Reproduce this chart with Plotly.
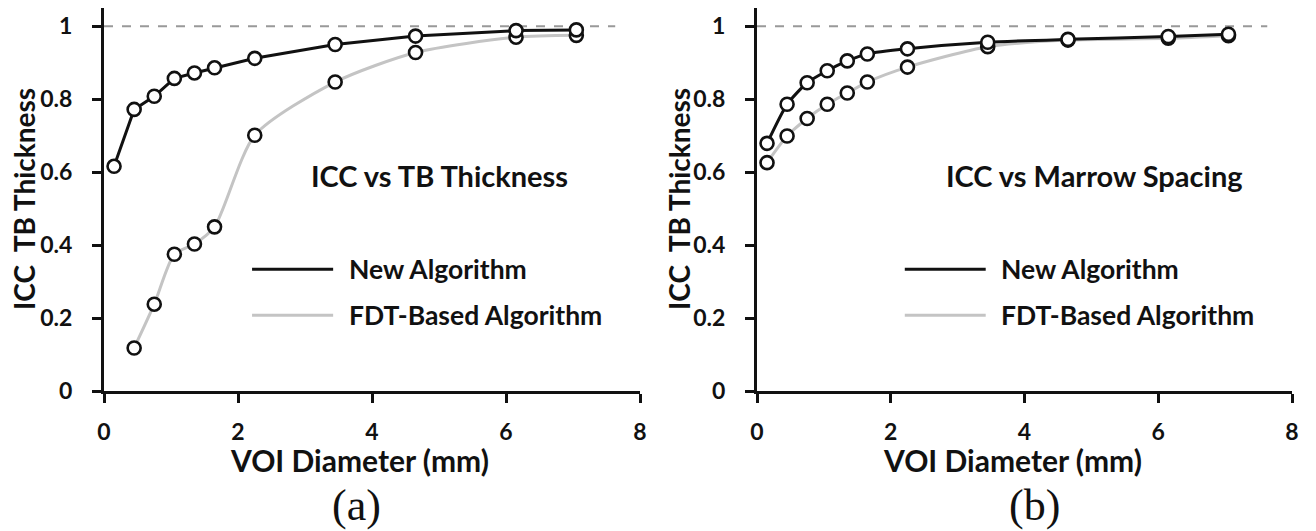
import plotly.graph_objects as go

voi_diameter = [0.15, 0.45, 0.75, 1.05, 1.35, 1.65, 2.25, 3.45, 4.65, 6.15, 7.05]

# Panel (a): ICC vs TB Thickness
a_new = [0.616, 0.772, 0.808, 0.857, 0.872, 0.886, 0.912, 0.950, 0.973, 0.988, 0.990]
a_fdt_x = [0.45, 0.75, 1.05, 1.35, 1.65, 2.25, 3.45, 4.65, 6.15, 7.05]
a_fdt = [0.118, 0.238, 0.375, 0.403, 0.450, 0.701, 0.847, 0.928, 0.970, 0.975]

# Panel (b): ICC vs Marrow Spacing
b_new = [0.679, 0.786, 0.845, 0.878, 0.905, 0.924, 0.938, 0.956, 0.964, 0.972, 0.978]
b_fdt = [0.626, 0.699, 0.747, 0.786, 0.817, 0.847, 0.888, 0.944, 0.962, 0.967, 0.974]

x_ticks = [0, 2, 4, 6, 8]
y_ticks = [0, 0.2, 0.4, 0.6, 0.8, 1]
y_tick_text = ["0", "0.2", "0.4", "0.6", "0.8", "1"]
ref_line_x = [0, 7.63]
ref_line_y = [1, 1]

legend_names = ["New Algorithm", "FDT-Based Algorithm"]
panel_titles = ["ICC vs TB Thickness", "ICC vs Marrow Spacing"]
panel_labels = ["(a)", "(b)"]
x_title = "VOI Diameter (mm)"
y_title = "ICC\u00a0 TB Thickness"

FONT = "Lato"
BLACK = "#111111"
GRAY = "#c4c4c4"
W, H, OFF = 1316, 531, 8  # page body margin offset


def fx(px):
    return (px - OFF) / W


def fy(py):
    return 1 - (py - OFF) / H


fig = go.Figure()

marker = dict(symbol="circle", size=13, color="white", line=dict(color=BLACK, width=2.6))

panels = [
    ("x", "y", voi_diameter, a_new, "linear", a_fdt_x, a_fdt),
    ("x2", "y2", voi_diameter, b_new, "spline", voi_diameter, b_fdt),
]
for xa, ya, xn, yn, shape_new, xf, yf in panels:
    fig.add_trace(go.Scatter(x=ref_line_x, y=ref_line_y, xaxis=xa, yaxis=ya, mode="lines",
                             line=dict(color="#999999", width=2, dash="dash"),
                             showlegend=False, hoverinfo="skip"))
    fig.add_trace(go.Scatter(x=xf, y=yf, xaxis=xa, yaxis=ya, mode="lines+markers",
                             line=dict(color=GRAY, width=3, shape="spline", smoothing=0.7),
                             marker=marker, showlegend=False))
    fig.add_trace(go.Scatter(x=xn, y=yn, xaxis=xa, yaxis=ya, mode="lines+markers",
                             line=dict(color=BLACK, width=3, shape=shape_new, smoothing=0.6),
                             marker=marker, showlegend=False))
    # legend sample lines
    fig.add_trace(go.Scatter(x=[2.21, 3.42], y=[0.334, 0.334], xaxis=xa, yaxis=ya, mode="lines",
                             line=dict(color=BLACK, width=3), showlegend=False, hoverinfo="skip"))
    fig.add_trace(go.Scatter(x=[2.21, 3.42], y=[0.208, 0.208], xaxis=xa, yaxis=ya, mode="lines",
                             line=dict(color=GRAY, width=3), showlegend=False, hoverinfo="skip"))

axis_common = dict(showline=True, linecolor=BLACK, linewidth=3, ticks="outside", ticklen=9,
                   tickwidth=3, tickcolor=BLACK, showgrid=False, zeroline=False, automargin=False,
                   tickfont=dict(family=FONT, size=23, color=BLACK, weight="bold"))

ydom = [fy(391), fy(8)]
fig.update_layout(
    width=W, height=H, margin=dict(l=0, r=0, t=0, b=0, autoexpand=False),
    paper_bgcolor="white", plot_bgcolor="white",
    xaxis=dict(domain=[fx(104), fx(640)], range=[0, 8], tickvals=x_ticks, anchor="y",
               ticklabelstandoff=9, **axis_common),
    yaxis=dict(domain=ydom, range=[0, 1.05], tickvals=y_ticks, ticktext=y_tick_text,
               anchor="x", ticklabelstandoff=15, **axis_common),
    xaxis2=dict(domain=[fx(757), fx(1292)], range=[0, 8], tickvals=x_ticks, anchor="y2",
                ticklabelstandoff=9, **axis_common),
    yaxis2=dict(domain=ydom, range=[0, 1.05], tickvals=y_ticks, ticktext=y_tick_text,
                anchor="x2", ticklabelstandoff=15, **axis_common),
)

ann = []
for i, (xa, ya) in enumerate([("x", "y"), ("x2", "y2")]):
    ann.append(dict(xref=xa, yref=ya, x=[5.0, 5.05][i], y=0.592, text=panel_titles[i],
                    xanchor="center", yanchor="middle", showarrow=False,
                    font=dict(family=FONT, size=29, color=BLACK, weight="bold")))
    ann.append(dict(xref=xa, yref=ya, x=3.62, y=0.334, text=legend_names[0],
                    xanchor="left", yanchor="middle", showarrow=False,
                    font=dict(family=FONT, size=26.5, color=BLACK, weight="bold")))
    ann.append(dict(xref=xa, yref=ya, x=3.62, y=0.208, text=legend_names[1],
                    xanchor="left", yanchor="middle", showarrow=False,
                    font=dict(family=FONT, size=26.5, color=BLACK, weight="bold")))
    cx = [359, 1012][i]
    ann.append(dict(xref="paper", yref="paper", x=fx(cx), y=fy(460), text=x_title,
                    xanchor="center", yanchor="middle", showarrow=False,
                    font=dict(family=FONT, size=30, color=BLACK, weight="bold")))
    ax = [24, 679][i]
    ann.append(dict(xref="paper", yref="paper", x=fx(ax), y=fy(199), text=y_title, textangle=-90,
                    xanchor="center", yanchor="middle", showarrow=False,
                    font=dict(family=FONT, size=28, color=BLACK, weight="bold")))
    lx = [356, 1034][i]
    ann.append(dict(xref="paper", yref="paper", x=fx(lx), y=fy(505), text=panel_labels[i],
                    xanchor="center", yanchor="middle", showarrow=False,
                    font=dict(family="Liberation Serif", size=44, color=BLACK)))
fig.update_layout(annotations=ann)

fig.write_html("out.html")
